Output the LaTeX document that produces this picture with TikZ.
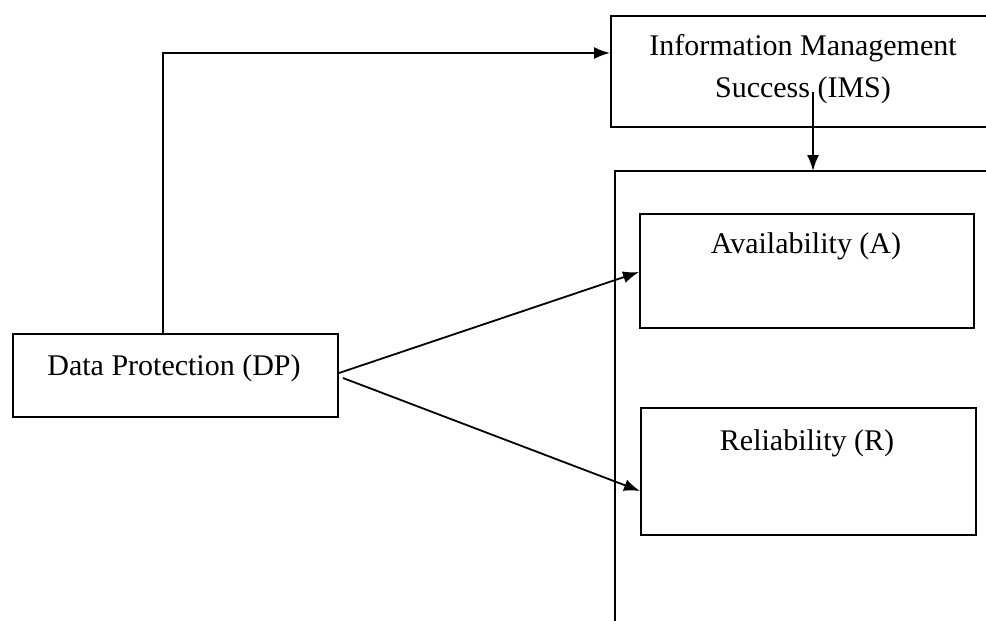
\documentclass[tikz,border=0pt]{standalone}
\usepackage{fontspec}
\setmainfont{Liberation Serif}
\usetikzlibrary{arrows.meta,calc}
\begin{document}
\begin{tikzpicture}[x=1pt,y=-1pt,
  box/.style={draw, line width=1.9pt, rectangle, inner sep=0pt, anchor=north west},
  lbl/.style={font=\fontsize{30}{36}\selectfont, inner sep=0pt, anchor=base},
  conn/.style={line width=1.8pt},
  arr/.style={conn, -{Latex[length=16pt,width=12pt]}}]
\useasboundingbox (0,0) rectangle (986,621);
\clip (0,0) rectangle (986,621);
% boxes
\node[box, minimum width=325pt, minimum height=83pt] (DP) at (12,333) {};
\node[box, minimum width=390pt, minimum height=111pt] (IMS) at (610,15) {};
\node[box, minimum width=334pt, minimum height=114pt] (A) at (639,213) {};
\node[box, minimum width=335pt, minimum height=127pt] (R) at (640,407) {};
% large enclosing box (open right and bottom)
\coordinate (bigTL) at (615,171);
\draw[line width=1.9pt] (1000,171) -- (bigTL) -- (615,640);
% labels
\node[lbl] (DPt) at (174,375) {Data Protection (DP)};
\node[lbl] (IMSt1) at (803,55) {Information Management};
\node[lbl] (IMSt2) at (803,97) {Success (IMS)};
\node[lbl] (At) at (806,253) {Availability (A)};
\node[lbl] (Rt) at (807,450) {Reliability (R)};
% connectors
\coordinate (DPup) at (163,53);
\draw[arr] (DP.north -| DPup) -- (DPup) -- (IMS.west |- DPup);
\coordinate (IMSdown) at (813,92);
\draw[arr] (IMSdown) -- (IMSdown |- bigTL);
\coordinate (DPo1) at (339,373);
\coordinate (DPo2) at (343,378);
\draw[arr] (DPo1) -- (A.west |- 0,272);
\draw[arr] (DPo2) -- (R.west |- 0,491);
\end{tikzpicture}
\end{document}
